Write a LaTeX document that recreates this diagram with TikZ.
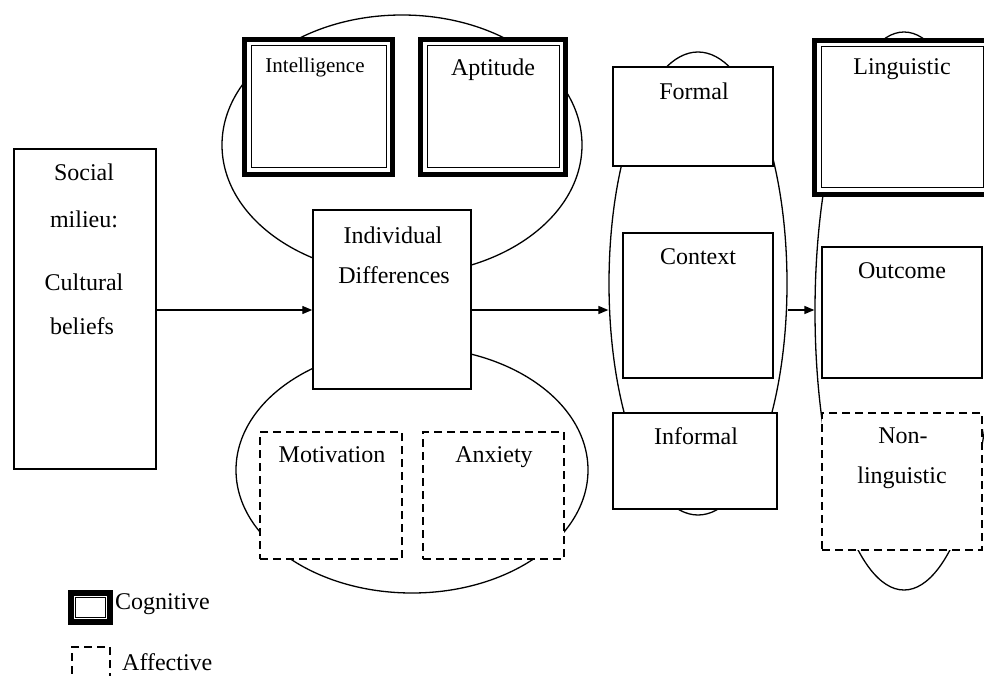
\documentclass[tikz,border=0pt]{standalone}
\usepackage{fontspec}
\setmainfont{Liberation Serif}
\usetikzlibrary{arrows.meta,shapes.geometric}
\begin{document}
\begin{tikzpicture}[x=1pt,y=-1pt,
  box/.style={draw,fill=white,line width=1.5pt,inner sep=0pt},
  dbox/.style={draw,fill=white,line width=1.5pt,dash pattern=on 8pt off 5pt,inner sep=0pt},
  cog/.style={draw,fill=white,line width=5pt,inner sep=0pt,
    path picture={\draw[line width=1pt]
      ([shift={(6.5pt,-6.5pt)}]path picture bounding box.north west) rectangle
      ([shift={(-6.5pt,6.5pt)}]path picture bounding box.south east);}},
  cogleg/.style={draw,fill=white,line width=6pt,inner sep=0pt,
    path picture={\draw[line width=0.8pt]
      ([shift={(4.5pt,-4.5pt)}]path picture bounding box.north west) rectangle
      ([shift={(-4.5pt,4.5pt)}]path picture bounding box.south east);}},
  ell/.style={draw,ellipse,line width=1.3pt,inner sep=0pt},
  txt/.style={inner sep=0pt,font=\fontsize{24}{28}\selectfont},
  arr/.style={line width=1.4pt,-{Triangle[length=10pt,width=8pt]}}]
\useasboundingbox (0,0) rectangle (984,676);
\clip (0,0) rectangle (984,676);
\coordinate (ay) at (0,310);
% ellipses
\node[ell,minimum width=360,minimum height=260] (topell) at (402,145) {};
\node[ell,minimum width=352,minimum height=246] (botell) at (412,470) {};
\node[ell,minimum width=178,minimum height=463] (ctxell) at (698,283.5) {};
\node[ell,minimum width=178,minimum height=558] (outell) at (904,311) {};
% boxes
\node[box,minimum width=142,minimum height=320] (social) at (85,309) {};
\node[box,minimum width=158,minimum height=179] (idiff) at (392,299.5) {};
\node[cog,minimum width=148,minimum height=135] (intel) at (318.5,107) {};
\node[cog,minimum width=145,minimum height=135] (apt) at (493,107) {};
\node[dbox,minimum width=142,minimum height=127] (motiv) at (331,495.5) {};
\node[dbox,minimum width=141,minimum height=127] (anx) at (493.5,495.5) {};
\node[box,minimum width=160,minimum height=99] (formal) at (693,116.5) {};
\node[box,minimum width=150,minimum height=145] (context) at (698,305.5) {};
\node[box,minimum width=164,minimum height=96] (informal) at (695,461) {};
\node[cog,minimum width=175,minimum height=154] (ling) at (902,117.5) {};
\node[box,minimum width=160,minimum height=131] (outcome) at (902,312.5) {};
\node[dbox,minimum width=160,minimum height=137] (nonling) at (902,481.5) {};
% texts
\node[txt] (t1) at (84,172) {Social};
\node[txt] (t2) at (84,219) {milieu:};
\node[txt] (t3) at (84,282) {Cultural};
\node[txt] (t4) at (82,326) {beliefs};
\node[txt,font=\fontsize{21}{25}\selectfont] (t5) at (315,67) {Intelligence};
\node[txt] (t6) at (493,70) {Aptitude};
\node[txt] (t7) at (393,235) {Individual};
\node[txt] (t8) at (394,275) {Differences};
\node[txt] (t9) at (332,455) {Motivation};
\node[txt] (t10) at (494,457) {Anxiety};
\node[txt] (t11) at (694,91) {Formal};
\node[txt] (t12) at (698,257) {Context};
\node[txt] (t13) at (696,436) {Informal};
\node[txt] (t14) at (902,69) {Linguistic};
\node[txt] (t15) at (902,271) {Outcome};
\node[txt] (t16) at (903,436) {Non-};
\node[txt] (t17) at (902,478) {linguistic};
% arrows
\draw[arr] (social.east |- ay) -- (idiff.west |- ay);
\draw[arr] (idiff.east |- ay) -- (ctxell.west |- ay);
\draw[arr] (ctxell.east |- ay) -- (outell.west |- ay);
% legend
\node[cogleg,minimum width=39,minimum height=29] (cogleg) at (90.5,607.5) {};
\node[txt,anchor=west] (cogt) at (115,604) {Cognitive};
\node[dbox,minimum width=38,minimum height=35] (affleg) at (91,664.5) {};
\node[txt,anchor=west] (afft) at (122,662) {Affective};
\end{tikzpicture}
\end{document}
